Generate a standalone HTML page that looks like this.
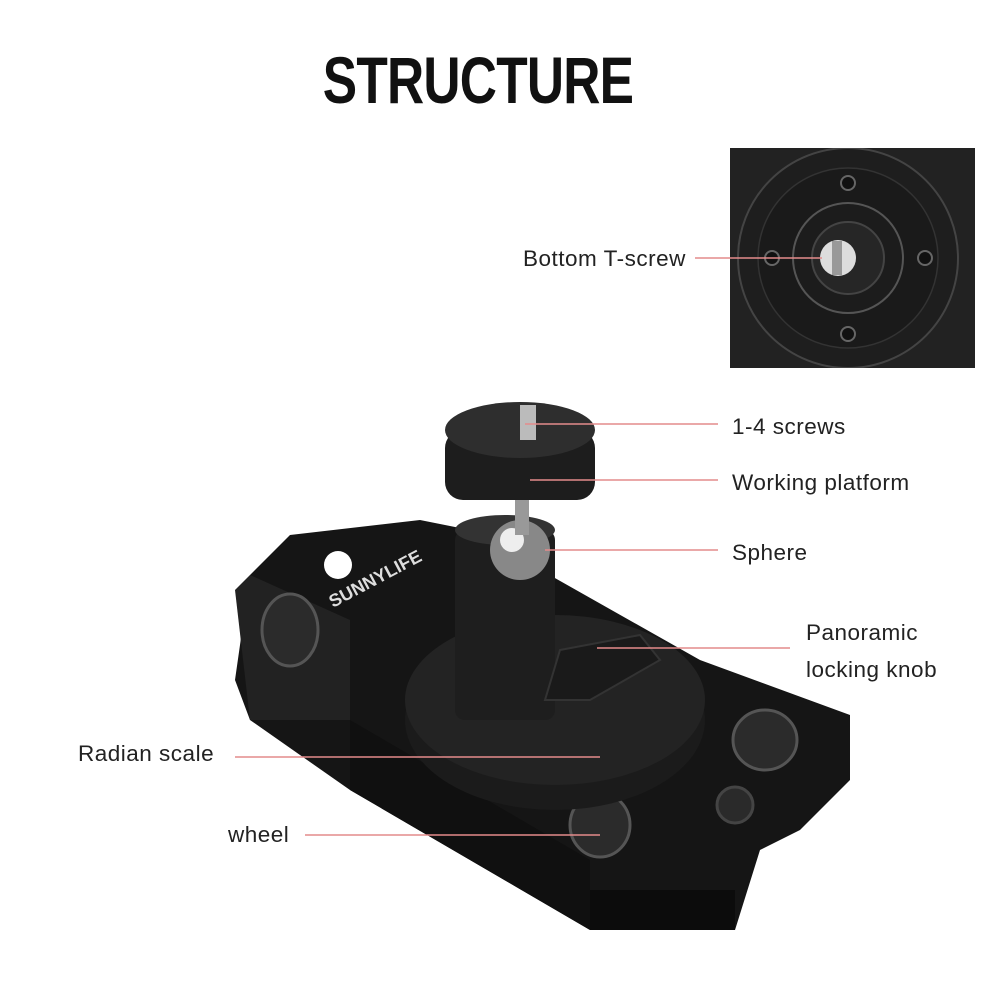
<!DOCTYPE html>
<html><head><style>
body{margin:0;background:#fff;}
.t{position:absolute;font-family:"Liberation Sans",sans-serif;font-size:22.5px;letter-spacing:0.5px;color:#222;}
</style></head><body>
<div style="position:relative;width:1000px;height:1000px;overflow:hidden;background:#fff">
<div style="position:absolute;left:278px;top:42px;width:400px;text-align:center;font-family:'Liberation Sans',sans-serif;font-weight:bold;font-size:66px;letter-spacing:-1px;transform:scaleX(0.78);transform-origin:center;color:#111">STRUCTURE</div>
<svg width="1000" height="1000" style="position:absolute;left:0;top:0">
<defs><clipPath id="c"><rect x="730" y="148" width="245" height="220"/></clipPath></defs>
<rect x="730" y="148" width="245" height="220" fill="#1c1c1c"/>
<g clip-path="url(#c)">
<circle cx="848" cy="258" r="170" fill="#222" stroke="#3a3a3a" stroke-width="2"/>
<circle cx="848" cy="258" r="110" fill="#1e1e1e" stroke="#444" stroke-width="2"/>
<circle cx="848" cy="258" r="90" fill="#1a1a1a" stroke="#333" stroke-width="1.5"/>
<circle cx="848" cy="258" r="55" fill="#1c1c1c" stroke="#555" stroke-width="2"/>
<circle cx="848" cy="258" r="36" fill="#262626" stroke="#444" stroke-width="2"/>
<circle cx="838" cy="258" r="18" fill="#ddd"/>
<rect x="832" y="241" width="10" height="34" fill="#999"/>
<g fill="#111" stroke="#666" stroke-width="2"><circle cx="848" cy="183" r="7"/><circle cx="848" cy="334" r="7"/><circle cx="772" cy="258" r="7"/><circle cx="925" cy="258" r="7"/></g>
</g>
<polygon points="250,575 290,535 420,520 470,530 700,660 850,715 850,780 800,830 760,850 735,930 590,930 350,790 250,720 235,680" fill="#151515"/>
<polygon points="235,590 250,575 350,620 350,720 250,720" fill="#222"/>
<polygon points="590,890 735,890 735,930 590,930" fill="#0c0c0c"/>
<polygon points="350,720 590,860 590,930 350,790" fill="#101010"/>
<circle cx="338" cy="565" r="14" fill="#fff"/>
<circle cx="735" cy="805" r="18" fill="#2a2a2a" stroke="#444" stroke-width="3"/>
<g fill="#2b2b2b" stroke="#555" stroke-width="3"><ellipse cx="290" cy="630" rx="28" ry="36"/><ellipse cx="765" cy="740" rx="32" ry="30"/><ellipse cx="600" cy="825" rx="30" ry="32"/></g>
<ellipse cx="555" cy="720" rx="150" ry="90" fill="#1b1b1b"/>
<ellipse cx="555" cy="700" rx="150" ry="85" fill="#232323"/>
<text x="333" y="608" fill="#ddd" font-family="Liberation Sans" font-weight="bold" font-size="18" transform="rotate(-28 333 608)">SUNNYLIFE</text>
<rect x="455" y="530" width="100" height="190" rx="10" fill="#1e1e1e"/>
<ellipse cx="505" cy="530" rx="50" ry="15" fill="#333"/>
<circle cx="520" cy="550" r="30" fill="#888"/>
<circle cx="512" cy="540" r="12" fill="#eee"/>
<rect x="515" y="495" width="14" height="40" fill="#999"/>
<polygon points="560,650 640,635 660,660 590,700 545,700" fill="#1a1a1a" stroke="#333" stroke-width="2"/>
<rect x="445" y="430" width="150" height="70" rx="18" fill="#1d1d1d"/>
<ellipse cx="520" cy="430" rx="75" ry="28" fill="#2e2e2e"/>
<rect x="520" y="405" width="16" height="35" fill="#bbb"/>
<g stroke="#e48b8b" stroke-width="1.5">
<line x1="695" y1="258" x2="822" y2="258"/>
<line x1="525" y1="424" x2="718" y2="424"/>
<line x1="530" y1="480" x2="718" y2="480"/>
<line x1="545" y1="550" x2="718" y2="550"/>
<line x1="597" y1="648" x2="790" y2="648"/>
<line x1="235" y1="757" x2="600" y2="757"/>
<line x1="305" y1="835" x2="600" y2="835"/>
</g>
</svg>
<div class="t" style="left:523px;top:246px">Bottom T-screw</div>
<div class="t" style="left:732px;top:414px">1-4 screws</div>
<div class="t" style="left:732px;top:470px">Working platform</div>
<div class="t" style="left:732px;top:540px">Sphere</div>
<div class="t" style="left:806px;top:620px">Panoramic</div>
<div class="t" style="left:806px;top:657px">locking knob</div>
<div class="t" style="left:78px;top:741px">Radian scale</div>
<div class="t" style="left:228px;top:822px">wheel</div>
</div>
</body></html>
